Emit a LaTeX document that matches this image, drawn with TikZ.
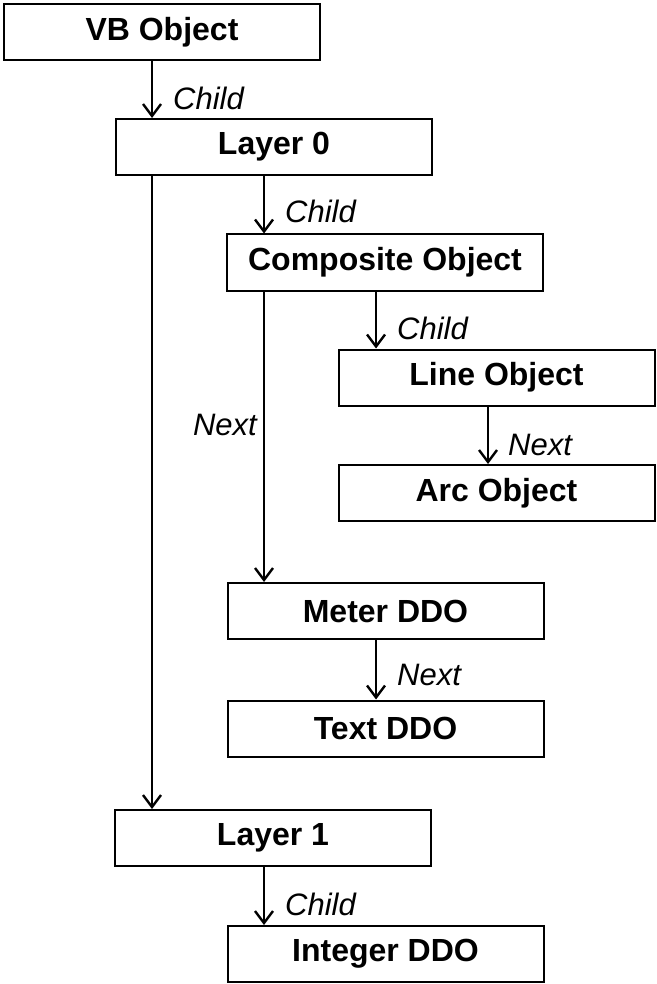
\documentclass[tikz,border=0pt]{standalone}
\usepackage{fontspec}
\setmainfont{Liberation Sans}
\usetikzlibrary{arrows.meta}
\begin{document}
\begin{tikzpicture}[x=1pt,y=-1pt,
  objbox/.style={draw=black, line width=2pt, minimum width=316pt, minimum height=56pt,
    inner sep=0pt, font=\fontsize{32}{38}\selectfont\bfseries},
  link/.style={line width=2pt, -{Straight Barb[length=12pt,width=18pt,line width=2.4pt]}},
  lbl/.style={inner sep=0pt, font=\fontsize{31}{37}\selectfont\itshape}]
\useasboundingbox (0,0) rectangle (656,984);
% object boxes
\node[objbox] (vb)   at (162,32)    {VB Object};
\node[objbox] (l0)   at (274,147)   {Layer 0};
\node[objbox] (comp) at (385,262.5) {Composite Object};
\node[objbox] (line) at (496.5,377.5) {Line Object};
\node[objbox] (arc)  at (496.5,493) {Arc Object};
\node[objbox] (met)  at (385.5,611) {Meter DDO};
\node[objbox] (txt)  at (385.5,728.5) {Text DDO};
\node[objbox] (l1)   at (273,838)   {Layer 1};
\node[objbox] (int)  at (385.5,954) {Integer DDO};
% x positions of the vertical links
\coordinate (xa) at (152,0);
\coordinate (xb) at (264,0);
\coordinate (xc) at (376,0);
\coordinate (xd) at (488,0);
% links
\draw[link] (vb.south -| xa) -- (l0.north -| xa);
\draw[link] (l0.south -| xa) -- (l1.north -| xa);
\draw[link] (l0.south -| xb) -- (comp.north -| xb);
\draw[link] (comp.south -| xb) -- (met.north -| xb);
\draw[link] (comp.south -| xc) -- (line.north -| xc);
\draw[link] (line.south -| xd) -- (arc.north -| xd);
\draw[link] (met.south -| xc) -- (txt.north -| xc);
\draw[link] (l1.south -| xb) -- (int.north -| xb);
% link labels
\node[lbl, anchor=base west] (c1) at (173,110) {Child};
\node[lbl, anchor=base west] (c2) at (285,223) {Child};
\node[lbl, anchor=base west] (c3) at (397,339) {Child};
\node[lbl, anchor=base east] (n1) at (257,435) {Next};
\node[lbl, anchor=base west] (n2) at (508,455) {Next};
\node[lbl, anchor=base west] (n3) at (397,685) {Next};
\node[lbl, anchor=base west] (c4) at (285,915) {Child};
\end{tikzpicture}
\end{document}
